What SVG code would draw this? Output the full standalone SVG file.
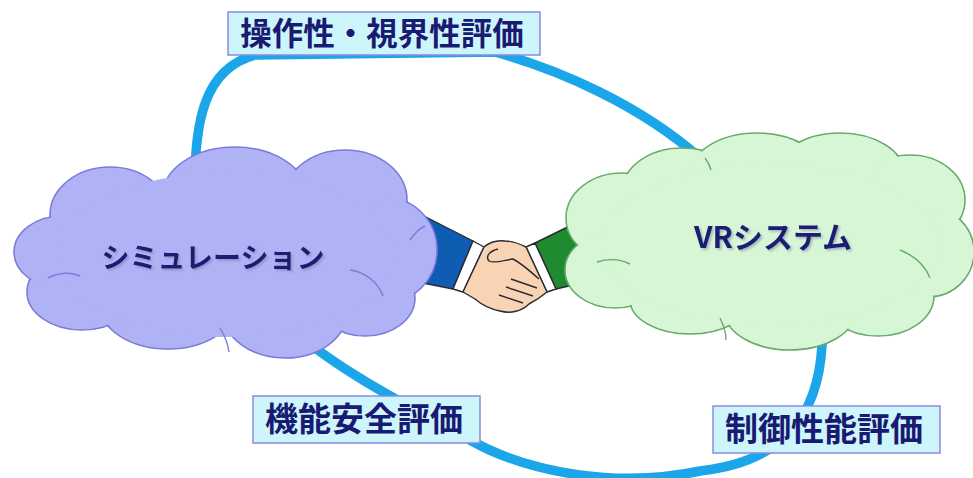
<svg xmlns="http://www.w3.org/2000/svg" width="973" height="478" viewBox="0 0 973 478">
  <defs>
    <filter id="soft-shadow" x="-10%" y="-30%" width="120%" height="160%">
      <feDropShadow dx="1.8" dy="1.8" stdDeviation="0.8" flood-color="#6a6a9a" flood-opacity="0.45"/>
    </filter>
  </defs>
  <style>
    .loop { fill: none; stroke: #1aa6e8; stroke-width: 9.5; stroke-linecap: round; }
    .sim-edge { fill: #b0b2f6; stroke: #7a7ada; stroke-width: 1.6; }
    .sim-fill { fill: #b0b2f6; }
    .vr-edge { fill: #d6f6d6; stroke: #6aaa6a; stroke-width: 1.6; }
    .vr-fill { fill: #d6f6d6; }
    .sim-arc { fill: none; stroke: #7a7ada; stroke-width: 1.4; }
    .vr-arc { fill: none; stroke: #6aaa6a; stroke-width: 1.4; }
    .cloud-text { font-family: "Noto Sans CJK JP", "Liberation Sans", sans-serif; font-weight: bold; fill: #1a1a72; text-anchor: middle; filter: url(#soft-shadow); }
    .label-box { fill: #ccf6fc; stroke: #8a8ae0; stroke-width: 1.5; }
    .label-text { font-family: "Noto Sans CJK JP", sans-serif; font-weight: bold; fill: #1a1a72; text-anchor: middle; }
    .ink { stroke: #2a2a30; stroke-width: 1.4; stroke-linejoin: round; }
  </style>

  <!-- evaluation loop linking the two clouds -->
  <g id="connectors">
    <path class="loop" d="M195,200 C193,120 205,68 255,55 L495,52 C560,70 640,105 700,158 C770,215 825,280 822,345 C818,420 780,462 700,471 C620,488 530,474 470,440 C420,412 340,372 297,333 C255,300 215,260 195,200 Z"/>
  </g>

  <!-- handshake between the clouds -->
  <g id="handshake">
    <polygon class="ink" fill="#0e5db2" points="420,214 473,241 453,289 418,282"/>
    <polygon class="ink" fill="#ffffff" points="473,241 484,247 463,292 453,289"/>
    <polygon class="ink" fill="#1f8a30" points="535,243 582,220 586,282 556,289"/>
    <polygon class="ink" fill="#ffffff" points="526,247 535,243 556,289 547,292"/>
    <path class="ink" fill="#f9d4b4" d="M484,247 C490,242 497,240 505,241 C512,241 520,244 526,247 L547,292 C541,297 535,301 529,304 C522,311 511,314 500,311 C490,309 482,305 475,299 L463,292 Z"/>
    <path class="ink" fill="none" d="M498,249 C490,251 485,256 489,261 C494,264 505,260 513,259 C521,263 530,271 539,279"/>
    <path class="ink" fill="none" d="M511,279 L537,288 M506,287 L533,296 M499,295 L523,303"/>
  </g>

  <!-- simulation cloud -->
  <g id="simulation">
    <g>
      <ellipse class="sim-edge" cx="110" cy="215" rx="60" ry="48"/>
      <ellipse class="sim-edge" cx="235" cy="195" rx="72" ry="48"/>
      <ellipse class="sim-edge" cx="345" cy="200" rx="62" ry="50"/>
      <ellipse class="sim-edge" cx="387" cy="250" rx="50" ry="52"/>
      <ellipse class="sim-edge" cx="365" cy="298" rx="50" ry="38"/>
      <ellipse class="sim-edge" cx="285" cy="312" rx="62" ry="46"/>
      <ellipse class="sim-edge" cx="168" cy="305" rx="68" ry="44"/>
      <ellipse class="sim-edge" cx="82" cy="292" rx="55" ry="38"/>
      <ellipse class="sim-edge" cx="62" cy="252" rx="48" ry="36"/>
    </g>
    <g>
      <ellipse class="sim-fill" cx="110" cy="215" rx="59" ry="47"/>
      <ellipse class="sim-fill" cx="235" cy="195" rx="71" ry="47"/>
      <ellipse class="sim-fill" cx="345" cy="200" rx="61" ry="49"/>
      <ellipse class="sim-fill" cx="387" cy="250" rx="49" ry="51"/>
      <ellipse class="sim-fill" cx="365" cy="298" rx="49" ry="37"/>
      <ellipse class="sim-fill" cx="285" cy="312" rx="61" ry="45"/>
      <ellipse class="sim-fill" cx="168" cy="305" rx="67" ry="43"/>
      <ellipse class="sim-fill" cx="82" cy="292" rx="54" ry="37"/>
      <ellipse class="sim-fill" cx="62" cy="252" rx="47" ry="35"/>
      <ellipse class="sim-fill" cx="225" cy="255" rx="170" ry="82"/>
    </g>
    <path class="sim-arc" d="M48,278 C60,272 72,272 80,276"/>
    <path class="sim-arc" d="M350,270 C365,272 378,282 383,296"/>
    <path class="sim-arc" d="M410,240 C415,233 420,228 425,226"/>
    <path class="sim-arc" d="M220,328 C225,336 228,345 229,352"/>
    <text class="cloud-text" x="213" y="268" font-size="28">シミュレーション</text>
  </g>

  <!-- VR system cloud -->
  <g id="vr-system">
    <g>
      <ellipse class="vr-edge" cx="622" cy="218" rx="56" ry="45"/>
      <ellipse class="vr-edge" cx="682" cy="192" rx="60" ry="44"/>
      <ellipse class="vr-edge" cx="757" cy="176" rx="68" ry="43"/>
      <ellipse class="vr-edge" cx="840" cy="173" rx="64" ry="40"/>
      <ellipse class="vr-edge" cx="910" cy="200" rx="55" ry="45"/>
      <ellipse class="vr-edge" cx="928" cy="252" rx="46" ry="45"/>
      <ellipse class="vr-edge" cx="878" cy="296" rx="56" ry="40"/>
      <ellipse class="vr-edge" cx="790" cy="310" rx="66" ry="40"/>
      <ellipse class="vr-edge" cx="690" cy="300" rx="60" ry="34"/>
      <ellipse class="vr-edge" cx="615" cy="270" rx="50" ry="38"/>
    </g>
    <g>
      <ellipse class="vr-fill" cx="622" cy="218" rx="55" ry="44"/>
      <ellipse class="vr-fill" cx="682" cy="192" rx="59" ry="43"/>
      <ellipse class="vr-fill" cx="757" cy="176" rx="67" ry="42"/>
      <ellipse class="vr-fill" cx="840" cy="173" rx="63" ry="39"/>
      <ellipse class="vr-fill" cx="910" cy="200" rx="54" ry="44"/>
      <ellipse class="vr-fill" cx="928" cy="252" rx="45" ry="44"/>
      <ellipse class="vr-fill" cx="878" cy="296" rx="55" ry="39"/>
      <ellipse class="vr-fill" cx="790" cy="310" rx="65" ry="39"/>
      <ellipse class="vr-fill" cx="690" cy="300" rx="59" ry="33"/>
      <ellipse class="vr-fill" cx="615" cy="270" rx="49" ry="37"/>
      <ellipse class="vr-fill" cx="770" cy="245" rx="170" ry="80"/>
    </g>
    <path class="vr-arc" d="M597,262 C610,258 622,260 630,264"/>
    <path class="vr-arc" d="M900,250 C915,256 925,265 930,278"/>
    <path class="vr-arc" d="M720,318 C724,326 726,334 726,340"/>
    <path class="vr-arc" d="M705,158 C708,162 710,166 711,170"/>
    <text class="cloud-text" x="773" y="248" font-size="30">VRシステム</text>
  </g>

  <!-- evaluation labels on the loop -->
  <g id="label-operability">
    <rect class="label-box" x="228" y="12" width="312" height="43"/>
    <text class="label-text" x="382" y="45" font-size="31.5">操作性・視界性評価</text>
  </g>
  <g id="label-functional-safety">
    <rect class="label-box" x="253" y="396" width="227" height="47"/>
    <text class="label-text" x="364" y="431" font-size="33">機能安全評価</text>
  </g>
  <g id="label-control">
    <rect class="label-box" x="713" y="406" width="227" height="47"/>
    <text class="label-text" x="824" y="441" font-size="33">制御性能評価</text>
  </g>
</svg>
